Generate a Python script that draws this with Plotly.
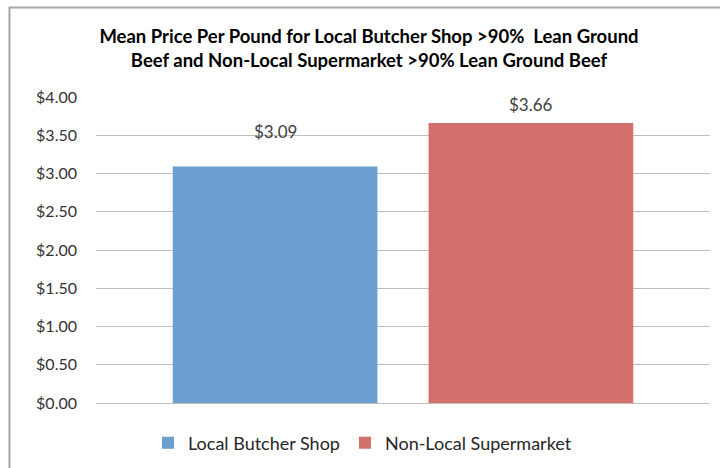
import plotly.graph_objects as go

# ---- data ----
categories = ["Local Butcher Shop", "Non-Local Supermarket"]
prices = [3.09, 3.66]
price_labels = ["$3.09", "$3.66"]
y_ticks = [0, 0.5, 1, 1.5, 2, 2.5, 3, 3.5, 4]
y_tick_labels = ["$0.00", "$0.50", "$1.00", "$1.50", "$2.00", "$2.50", "$3.00", "$3.50", "$4.00"]
title_text = ("Mean Price Per Pound for Local Butcher Shop >90%  Lean Ground<br>"
              "Beef and Non-Local Supermarket >90% Lean Ground Beef")

# ---- styles ----
colors = ["#6A9FCF", "#D4706B"]
label_shift = [35, 19]
FONT = "Lato"

fig = go.Figure()
for i, cat in enumerate(categories):
    fig.add_trace(go.Bar(
        x=[cat], y=[prices[i]], name=cat,
        marker=dict(color=colors[i], line=dict(width=0)),
        width=0.80, hoverinfo="skip",
    ))
    fig.add_annotation(
        x=cat, y=prices[i], text=price_labels[i], showarrow=False,
        xref="x", yref="y", yanchor="middle", yshift=label_shift[i],
        font=dict(family=FONT, size=17, color="#404040"),
    )

L, R, T, B = 96, 10, 97, 65
pw = 720 - L - R
ph = 468 - T - B

# chart border (outer frame of the original chart)
fig.add_shape(type="rect", xref="paper", yref="paper",
              x0=(9.5 - L) / pw, x1=(760 - L) / pw,
              y0=-(500 - (468 - B)) / ph, y1=((468 - B) - 7.5) / ph,
              line=dict(color="#A6A6A6", width=2), layer="below")

fig.update_layout(
    width=720, height=468,
    margin=dict(l=L, r=R, t=T, b=B, autoexpand=False),
    paper_bgcolor="white", plot_bgcolor="white",
    barmode="overlay",
    showlegend=True,
    title=dict(text=title_text, x=369 / 720, xanchor="center", xref="container",
               y=1 - 43 / 468, yanchor="top", yref="container",
               font=dict(family=FONT, size=18.5, color="#000000", weight="bold")),
    legend=dict(orientation="h", x=(148 - L) / pw, xanchor="left",
                y=-(443 - (468 - B)) / ph, yanchor="middle",
                font=dict(family=FONT, size=18, color="#262626"),
                itemwidth=30,
                bgcolor="rgba(0,0,0,0)", traceorder="normal"),
    xaxis=dict(range=[-0.70, 1.70], showticklabels=False, showgrid=False,
               zeroline=False, showline=False, ticks="", fixedrange=True),
    yaxis=dict(range=[0, 4], tickvals=y_ticks, ticktext=y_tick_labels,
               showgrid=True, gridcolor="#BFBFBF", gridwidth=1,
               zeroline=True, zerolinecolor="#BFBFBF", zerolinewidth=1,
               showline=False, ticks="", ticklabelstandoff=18,
               tickfont=dict(family=FONT, size=16, color="#333333")),
    font=dict(family=FONT),
)

fig.write_html("out.html", config={"displayModeBar": False},
               post_script="document.body.style.margin='0px';")
